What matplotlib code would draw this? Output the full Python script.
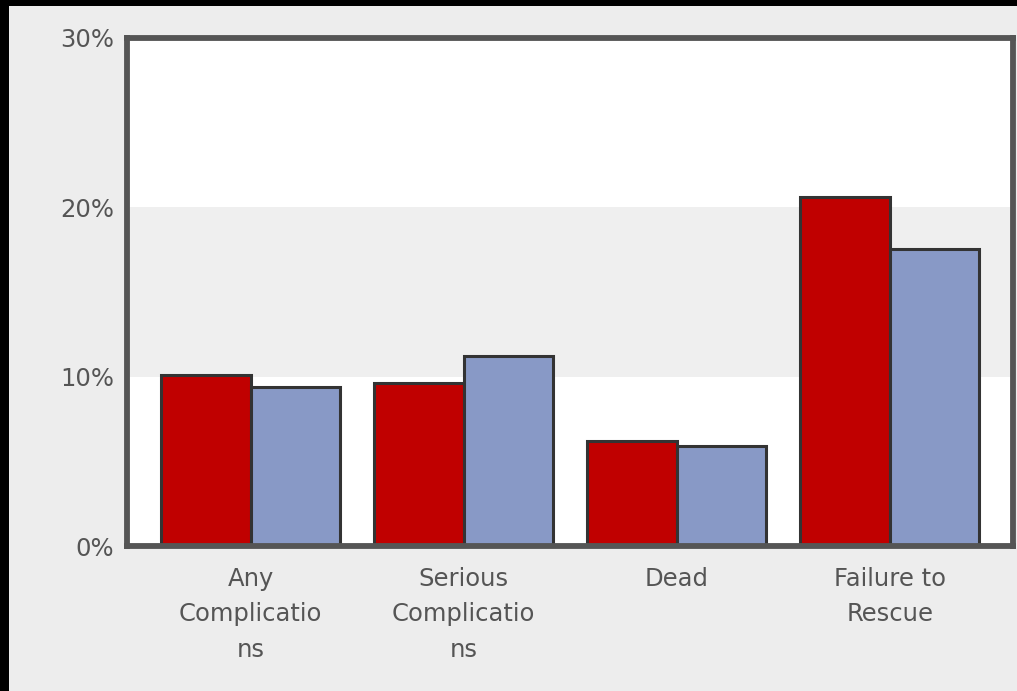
import matplotlib
matplotlib.use("Agg")
import matplotlib.pyplot as plt
import numpy as np
from matplotlib.patches import Rectangle

categories = ["Any\nComplicatio\nns", "Serious\nComplicatio\nns", "Dead", "Failure to\nRescue"]
series_red = [10.1, 9.6, 6.2, 20.6]
series_blue = [9.4, 11.2, 5.9, 17.5]
yticks = [0, 10, 20, 30]
ytick_labels = ["0%", "10%", "20%", "30%"]

RED = "#c00000"
BLUE = "#8899c6"
EDGE = "#333333"
SPINE = "#555555"
TEXT = "#555555"
BG = "#ededed"

fig = plt.figure(figsize=(10.17, 6.91), dpi=100, facecolor=BG)
ax = fig.add_axes([0.1244, 0.2098, 0.996 - 0.1244, 0.9457 - 0.2098])
ax.set_facecolor("white")

# black frame strips along the top and left of the picture
fig.patches.append(Rectangle((0, 1 - 6 / 691), 1, 6 / 691, transform=fig.transFigure,
                             facecolor="black", edgecolor="none", zorder=0))
fig.patches.append(Rectangle((0, 0), 9 / 1017, 1, transform=fig.transFigure,
                             facecolor="black", edgecolor="none", zorder=0))

ax.axhspan(10, 20, color="#efefef", zorder=0, lw=0)

x = np.arange(len(categories))
w = 0.42
ax.bar(x - w / 2, series_red, width=w, color=RED, edgecolor=EDGE, linewidth=2.2, zorder=2)
ax.bar(x + w / 2, series_blue, width=w, color=BLUE, edgecolor=EDGE, linewidth=2.2, zorder=2)

ax.set_xlim(-0.583, len(categories) - 1 + 0.578)
ax.set_ylim(0, 30)
ax.set_yticks(yticks)
ax.set_yticklabels(ytick_labels)
ax.set_xticks(x)
ax.set_xticklabels(categories, linespacing=1.6)
ax.tick_params(axis="both", length=0, labelsize=17.5, colors=TEXT)
ax.tick_params(axis="y", pad=9)
ax.tick_params(axis="x", pad=15)
for lab in ax.get_xticklabels():
    lab.set_horizontalalignment("center")
    lab.set_verticalalignment("top")

for side in ["left", "right", "top", "bottom"]:
    ax.spines[side].set_color(SPINE)
    ax.spines[side].set_linewidth(4.2)

fig.savefig("out.png", dpi=100, facecolor=BG)
